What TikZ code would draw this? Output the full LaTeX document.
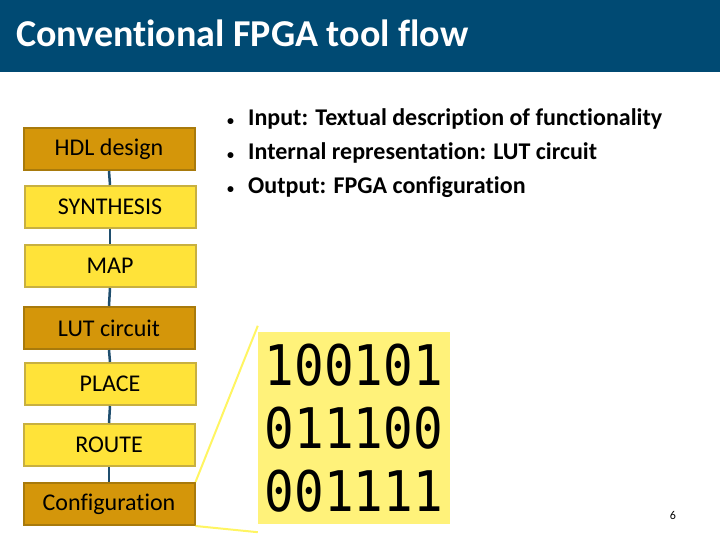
\documentclass[tikz,border=0pt]{standalone}
\usepackage{fontspec}
\setmainfont[Ligatures=NoCommon]{Carlito}
\newfontfamily\digitfont[FakeStretch=0.88]{DejaVu Sans Mono}
\definecolor{titleblue}{HTML}{004A73}
\definecolor{darkbox}{HTML}{D4960A}
\definecolor{darkedge}{HTML}{A87A0C}
\definecolor{lightbox}{HTML}{FFE339}
\definecolor{lightedge}{HTML}{C8B040}
\definecolor{binfill}{HTML}{FFF27A}
\definecolor{linkblue}{HTML}{1F4E6E}
\tikzset{
  flowbox/.style={draw=#1edge, fill=#1box, line width=2pt, minimum width=171pt, minimum height=42pt, inner sep=0pt, font=\fontsize{24}{28}\selectfont},
  link/.style={linkblue, line width=2.5pt},
  bullet/.style={anchor=west, inner sep=0pt, font=\fontsize{24}{28}\selectfont\bfseries}
}
\begin{document}
\begin{tikzpicture}[x=1pt,y=-1pt]
  \useasboundingbox (0,0) rectangle (720,540);
  \fill[titleblue] (0,0) rectangle (720,72);
  \node[anchor=west, inner sep=0pt, white, font=\fontsize{38}{44}\selectfont\bfseries] (title) at (16,33) {Conventional FPGA tool flow};

% flow boxes
  \node[flowbox=dark]  (hdl)   at (109,149) {HDL design};
  \node[flowbox=light] (synth) at (110,207) {SYNTHESIS};
  \node[flowbox=light] (map)   at (110,266) {MAP};
  \node[flowbox=dark]  (lut)   at (109,328) {LUT circuit};
  \node[flowbox=light] (place) at (110,384) {PLACE};
  \node[flowbox=light] (route) at (109,445) {ROUTE};
  \node[flowbox=dark]  (conf)  at (109,504) {Configuration};
  \foreach \a/\b in {hdl/synth,synth/map,map/lut,lut/place,place/route,route/conf}
    \draw[link] (\a.south) -- (\b.north);

% bullets
  \foreach \t [count=\i] in {Input: Textual description of  functionality, Internal representation: LUT circuit, Output: FPGA configuration}
    \node[bullet] (b\i) at (227,85+34*\i) {{\fontsize{14}{16}\selectfont\textbullet}\hspace{14pt}\t};

% bitstream
  \node[fill=binfill, minimum width=192pt, minimum height=192pt, inner sep=0pt, align=left, font=\digitfont\fontsize{56}{63}\selectfont] (bits) at (354,428) {100101\\011100\\001111};
  \draw[binfill!80!yellow, line width=2pt] (conf.north east) -- ([yshift=6pt]bits.north west);
  \draw[binfill!80!yellow, line width=2pt] (conf.south east) -- ([yshift=-8pt]bits.south west);

  \node[font=\fontsize{12}{14}\selectfont] (page) at (673,515) {6};
\end{tikzpicture}
\end{document}
